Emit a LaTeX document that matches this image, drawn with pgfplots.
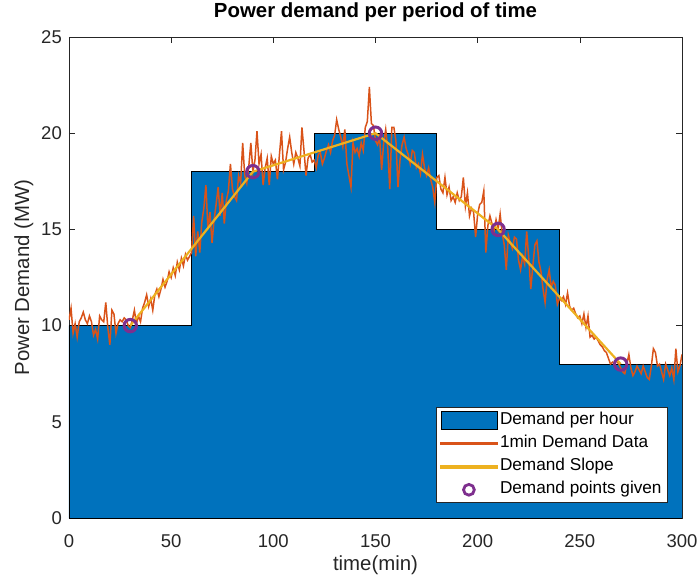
\documentclass[border=0pt]{standalone}
\usepackage{fontspec}
\setmainfont{Liberation Sans}
\usepackage{pgfplots}
\pgfplotsset{compat=1.18}

\definecolor{mblue}{RGB}{0,114,189}
\definecolor{morange}{RGB}{217,83,25}
\definecolor{myellow}{RGB}{237,177,32}
\definecolor{mpurple}{RGB}{126,47,142}
\definecolor{axgray}{RGB}{38,38,38}

\newcommand{\tickfont}{\fontsize{18.5}{22}\selectfont}
\newcommand{\lblfont}{\fontsize{20.4}{24}\selectfont}
\newcommand{\legfont}{\fontsize{17.2}{20}\selectfont}

\begin{document}
\begin{tikzpicture}
\useasboundingbox (-69pt,-58pt) rectangle (628pt,518pt);
\begin{axis}[
  at={(0,0)}, anchor=south west,
  scale only axis, width=613pt, height=481pt,
  xmin=0, xmax=300, ymin=0, ymax=25,
  xtick={0,50,...,300}, ytick={0,5,...,25},
  tick align=inside, major tick length=6pt,
  tick style={axgray, line width=0.6pt},
  axis line style={axgray, line width=0.8pt},
  /pgf/number format/assume math mode=true,
  ticklabel style={font=\tickfont, text=axgray},
  xticklabel style={anchor=center, yshift=-23pt, inner sep=0pt},
  yticklabel style={anchor=east, xshift=-7pt, inner sep=0pt},
  title={Power demand per period of time},
  title style={font=\bfseries\lblfont, at={(axis description cs:0.5,1.0395)}, anchor=center},
  xlabel={time(min)},
  xlabel style={font=\lblfont, text=axgray, at={(axis description cs:0.5,-0.0977)}, anchor=center},
  ylabel={Power Demand (MW)},
  ylabel style={font=\lblfont, text=axgray, at={(axis description cs:-0.0735,0.5)}, anchor=center},
  legend cell align=left,
  legend style={at={(0.977,0.031)}, anchor=south east, draw=axgray, line width=0.6pt,
    font=\legfont, row sep=3.1pt, inner xsep=4pt, inner ysep=3pt,
    nodes={text height=12pt, text depth=4pt, inner sep=2pt}},
]
% hourly demand blocks
\addplot[const plot, fill=mblue, draw=black, line width=0.8pt,
  legend image code/.code={\draw[fill=mblue,draw=black,line width=0.8pt] (0pt,-9pt) rectangle (56pt,9pt);}]
  coordinates {(0,10)(60,18)(120,20)(180,15)(240,8)(300,8)} \closedcycle;
\addlegendentry{Demand per hour}

% minute-by-minute measurements
\addplot[color=morange, line width=1.5pt,
  legend image code/.code={\fill[morange] (0pt,-0.6pt) rectangle (56pt,0.6pt);}]
  coordinates {
(0,10.3)(1,10.9)(2,9.6)(3,10.1)(4,9.4)(5,10.2)(6,10.4)(7,10.7)(8,10.3)(9,10.1)
(10,10.5)(11,10.2)(12,9.5)(13,9.8)(14,9.3)(15,10.5)(16,10.3)(17,10.2)(18,11.2)(19,9.9)
(20,9.0)(21,10.8)(22,10.6)(23,9.6)(24,10.1)(25,10.3)(26,10.2)(27,10.4)(28,10.3)(29,10.0)
(30,9.9)(31,10.3)(32,10.8)(33,10.1)(34,10.5)(35,10.2)(36,10.9)(37,11.2)(38,11.6)(39,11.0)
(40,11.4)(41,10.8)(42,11.6)(43,11.9)(44,11.5)(45,11.9)(46,12.4)(47,12.0)(48,12.3)(49,12.8)
(50,12.5)(51,13.0)(52,12.6)(53,13.3)(54,12.9)(55,13.5)(56,13.1)(57,13.7)(58,13.4)(59,13.6)
(60,13.8)(61,15.7)(62,13.6)(63,14.9)(64,13.8)(65,15.4)(66,16.1)(67,17.3)(68,15.0)(69,15.9)
(70,14.3)(71,15.5)(72,16.3)(73,17.2)(74,15.7)(75,16.9)(76,15.3)(77,16.5)(78,17.0)(79,18.4)
(80,17.1)(81,16.7)(82,16.5)(83,17.8)(84,17.4)(85,19.5)(86,17.8)(87,17.4)(88,18.3)(89,19.5)
(90,18.0)(91,18.6)(92,20.1)(93,18.4)(94,18.9)(95,17.3)(96,18.2)(97,18.7)(98,17.3)(99,18.8)
(100,18.4)(101,18.6)(102,17.6)(103,18.9)(104,20.1)(105,18.1)(106,18.5)(107,19.2)(108,19.8)(109,19.0)
(110,18.4)(111,19.0)(112,18.7)(113,18.3)(114,20.3)(115,19.1)(116,17.8)(117,18.7)(118,18.9)(119,18.5)
(120,18.6)(121,18.2)(122,18.9)(123,19.0)(124,18.4)(125,18.7)(126,19.1)(127,19.4)(128,19.0)(129,19.6)
(130,19.9)(131,20.7)(132,20.2)(133,19.8)(134,19.3)(135,20.2)(136,18.4)(137,17.8)(138,17.2)(139,19.5)
(140,19.0)(141,19.2)(142,18.8)(143,19.5)(144,19.1)(145,20.3)(146,20.6)(147,22.4)(148,20.5)(149,20.4)
(150,19.6)(151,19.4)(152,19.8)(153,18.1)(154,19.5)(155,20.2)(156,19.2)(157,17.1)(158,20.3)(159,20.3)
(160,19.6)(161,17.2)(162,18.6)(163,19.4)(164,19.8)(165,19.2)(166,18.9)(167,18.4)(168,19.1)(169,19.0)
(170,18.2)(171,18.4)(172,17.9)(173,18.9)(174,18.2)(175,17.8)(176,18.2)(177,17.6)(178,17.2)(179,16.4)
(180,17.7)(181,17.8)(182,17.1)(183,16.9)(184,17.7)(185,16.8)(186,17.2)(187,16.5)(188,16.7)(189,16.4)
(190,16.9)(191,16.5)(192,16.7)(193,17.7)(194,16.2)(195,16.9)(196,15.7)(197,16.1)(198,15.9)(199,14.6)
(200,15.8)(201,16.3)(202,16.4)(203,17.0)(204,13.8)(205,15.2)(206,15.7)(207,15.3)(208,14.9)(209,15.5)
(210,15.0)(211,15.8)(212,14.8)(213,14.2)(214,12.9)(215,14.7)(216,14.3)(217,14.0)(218,14.6)(219,14.5)
(220,13.4)(221,12.9)(222,13.6)(223,13.2)(224,14.9)(225,13.5)(226,11.9)(227,13.1)(228,14.2)(229,14.4)
(230,13.3)(231,12.8)(232,11.9)(233,11.2)(234,12.4)(235,12.9)(236,12.0)(237,12.3)(238,12.1)(239,11.1)
(240,11.4)(241,11.3)(242,11.5)(243,11.1)(244,11.7)(245,11.0)(246,10.8)(247,10.9)(248,10.6)(249,10.4)
(250,10.5)(251,10.1)(252,10.6)(253,9.9)(254,10.5)(255,9.4)(256,9.5)(257,9.3)(258,9.4)(259,9.2)
(260,9.0)(261,8.9)(262,8.7)(263,8.6)(264,8.3)(265,8.0)(266,8.1)(267,8.0)(268,8.2)(269,8.0)
(270,7.8)(271,7.6)(272,7.5)(273,8.0)(274,8.5)(275,7.8)(276,7.4)(277,7.6)(278,7.9)(279,7.7)
(280,7.5)(281,7.9)(282,7.6)(283,7.3)(284,7.2)(285,7.9)(286,8.8)(287,8.6)(288,7.9)(289,8.0)
(290,7.6)(291,7.2)(292,8.0)(293,7.7)(294,7.4)(295,7.8)(296,7.2)(297,8.8)(298,7.6)(299,7.9)(300,8.5)
  };
\addlegendentry{1min Demand Data}

% piecewise-linear demand profile
\addplot[color=myellow, line width=2.2pt,
  legend image code/.code={\fill[myellow] (0pt,-0.9pt) rectangle (56pt,0.9pt);}]
  coordinates {(30,10)(90,18)(150,20)(210,15)(270,8)};
\addlegendentry{Demand Slope}

% given demand points
\addplot[only marks, mark=o, mpurple, mark size=6.2pt, line width=3pt,
  legend image code/.code={\draw[mpurple,line width=2.8pt] (28pt,0pt) circle (5.4pt);}]
  coordinates {(30,10)(90,18)(150,20)(210,15)(270,8)};
\addlegendentry{Demand points given}
\end{axis}
\end{tikzpicture}
\end{document}
